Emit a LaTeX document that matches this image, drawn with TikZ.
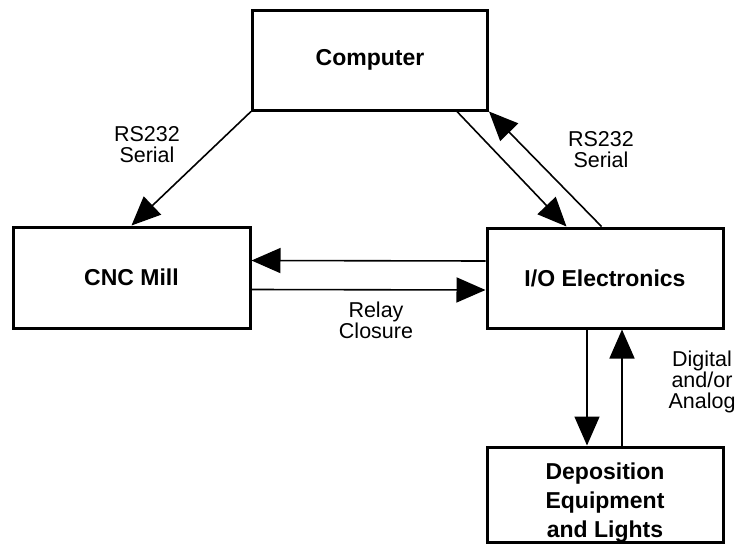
\documentclass[tikz,border=0pt]{standalone}
\usepackage{fontspec}
\setmainfont{Liberation Sans}
\usetikzlibrary{arrows.meta}
\begin{document}
\begin{tikzpicture}[x=1pt,y=-1pt,
  box/.style={draw=black,line width=3pt,fill=white,inner sep=0pt,align=center,
    font=\bfseries\fontsize{23}{29}\selectfont},
  lbl/.style={align=center,inner sep=0pt,font=\fontsize{21.5}{21}\selectfont},
  conn/.style={line width=1.6pt,-{Triangle[length=29pt,width=25pt]}}]
\useasboundingbox (0,0) rectangle (737,546);
\node[box,minimum width=235pt,minimum height=100pt] (comp) at (370,60) {Computer};
\node[box,minimum width=237pt,minimum height=101pt] (cnc) at (131.5,277.5) {CNC Mill};
\node[box,minimum width=236pt,minimum height=100pt] (io) at (605,278) {I/O Electronics};
\node[box,minimum width=236pt,minimum height=95pt] (dep) at (605,494.5) {};
\node[align=center,inner sep=0pt,font=\bfseries\fontsize{23}{29}\selectfont] (deptext) at (605,503) {Deposition\\Equipment\\and Lights};
\draw[conn] (comp.south west) -- ([xshift=120pt]cnc.north west);
\draw[conn] ([xshift=-32pt]comp.south east) -- ([xshift=81pt]io.north west);
\draw[conn] ([xshift=116pt]io.north west) -- (comp.south east);
\draw[conn] ([yshift=17pt]io.west) -- ([yshift=17pt]cnc.east);
\draw[conn] ([yshift=-12pt]cnc.east) -- ([yshift=-12pt]io.west);
\draw[conn] ([xshift=-18pt]io.south) -- ([xshift=-18pt]dep.north);
\draw[conn] ([xshift=17pt]dep.north) -- ([xshift=17pt]io.south);
\node[lbl] (l1) at (147,145) {RS232\\Serial};
\node[lbl] (l2) at (601,150) {RS232\\Serial};
\node[lbl] (l3) at (376,320) {Relay\\Closure};
\node[lbl] (l4) at (702,382) {Digital\\and/or\\Analog};
\end{tikzpicture}
\end{document}
